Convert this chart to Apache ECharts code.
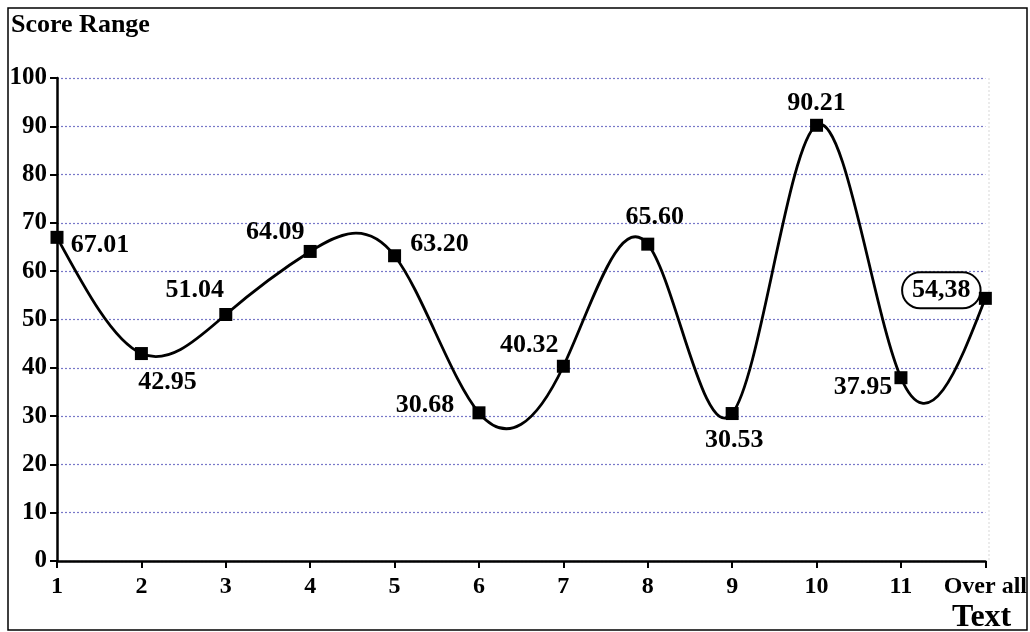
<!DOCTYPE html>
<html><head><meta charset="utf-8">
<script src="https://cdn.jsdelivr.net/npm/echarts@6/dist/echarts.min.js"></script>
<style>html,body{margin:0;padding:0;background:#fff}#c{width:1030px;height:632px}</style>
</head><body><div id="c"></div>
<script>
const categories = ['1','2','3','4','5','6','7','8','9','10','11','Over all'];
const scores = [67.01, 42.95, 51.04, 64.09, 63.20, 30.68, 40.32, 65.60, 30.53, 90.21, 37.95, 54.38];
const labelTexts = ['67.01','42.95','51.04','64.09','63.20','30.68','40.32','65.60','30.53','90.21','37.95','54,38'];
const yTicks = [0,10,20,30,40,50,60,70,80,90,100];

const F = '"Liberation Serif", "DejaVu Serif", serif';
const labelOffsets = [[43,8],[26,29],[-31,-24],[-35,-19],[45,-11],[-54,-8],[-34,-21],[7,-27],[2,27],[0,-22],[-38,10],[-44,-8]];

// natural cubic spline slopes (per category step) computed from values
function splineSlopes(y){
  const n = y.length; const M = new Array(n).fill(0);
  const a=[],b=[],c=[],d=[];
  for(let i=1;i<n-1;i++){a.push(1);b.push(4);c.push(1);d.push(6*(y[i-1]-2*y[i]+y[i+1]));}
  const m=d.length; const cp=[],dp=[];
  for(let i=0;i<m;i++){
    const den = b[i]-(i>0?a[i]*cp[i-1]:0);
    cp[i]=c[i]/den; dp[i]=(d[i]-(i>0?a[i]*dp[i-1]:0))/den;
  }
  const sol=new Array(m);
  for(let i=m-1;i>=0;i--){sol[i]=dp[i]-(i<m-1?cp[i]*sol[i+1]:0);}
  for(let i=0;i<m;i++)M[i+1]=sol[i];
  const s=[];
  for(let i=0;i<n-1;i++) s.push((y[i+1]-y[i])-(2*M[i]+M[i+1])/6);
  s.push((y[n-1]-y[n-2])+(M[n-2]+2*M[n-1])/6);
  return s;
}
const slopes = splineSlopes(scores);

const data = scores.map((v,i)=>{
  const lab = {show:true, position:'inside', offset:labelOffsets[i], align:'center', verticalAlign:'middle',
    formatter:labelTexts[i], fontFamily:F, fontWeight:'bold', fontSize:26, color:'#000'};
  if (i===scores.length-1) Object.assign(lab,{borderColor:'#000',borderWidth:2,borderRadius:20,padding:[6,10,4,10]});
  return {value:v, label:lab};
});

const chart = echarts.init(document.getElementById('c'));
chart.setOption({
  animation:false,
  backgroundColor:'#fff',
  grid:{left:57,right:41,top:78,bottom:71},
  xAxis:{type:'category',data:categories,boundaryGap:false,
    axisLine:{lineStyle:{color:'#000',width:2.5}},
    axisTick:{show:true,length:7,interval:0,lineStyle:{color:'#000',width:2}},
    axisLabel:{color:'#000',fontFamily:F,fontWeight:'bold',fontSize:24,margin:14,interval:0},
    splitLine:{show:false}},
  yAxis:{type:'value',min:0,max:100,interval:10,
    axisLine:{show:true,lineStyle:{color:'#000',width:2.5}},
    axisTick:{show:true,length:7,lineStyle:{color:'#000',width:2}},
    axisLabel:{color:'#000',fontFamily:F,fontWeight:'bold',fontSize:25,margin:10,
      formatter:(v)=> yTicks.includes(v)? String(v):''},
    splitLine:{show:true,lineStyle:{color:'#7878c8',type:[2,2],width:1.2}}},
  series:[
    {type:'custom',z:2,silent:true,
      data:scores.map((v,i)=>[i,v]),
      renderItem:function(params,api){
        const i=params.dataIndex;
        if(i>=scores.length-1) return null;
        const p0=api.coord([i,scores[i]]), p1=api.coord([i+1,scores[i+1]]);
        const dx=(p1[0]-p0[0])/3;
        const c1y=api.coord([i,scores[i]+slopes[i]/3])[1];
        const c2y=api.coord([i+1,scores[i+1]-slopes[i+1]/3])[1];
        return {type:'bezierCurve',shape:{x1:p0[0],y1:p0[1],x2:p1[0],y2:p1[1],
          cpx1:p0[0]+dx,cpy1:c1y,cpx2:p1[0]-dx,cpy2:c2y},
          style:{stroke:'#000',lineWidth:2.8,fill:null}};
      }},
    {type:'line',z:3,data:data,symbol:'rect',symbolSize:13,
      lineStyle:{opacity:0,width:0},itemStyle:{color:'#000'}}
  ],
  graphic:[
    {type:'rect',shape:{x:8,y:8,width:1019,height:622},style:{fill:null,stroke:'#000',lineWidth:1.5},silent:true},
    {type:'line',shape:{x1:989,y1:78,x2:989,y2:560},style:{stroke:'#d8d8d8',lineWidth:1,lineDash:[2,2]},silent:true},
    {type:'text',left:11,top:12,style:{text:'Score Range',font:'bold 26px '+F,fill:'#000'}},
    {type:'text',left:952,top:602,style:{text:'Text',font:'bold 32px '+F,fill:'#000'}}
  ]
});
</script></body></html>
